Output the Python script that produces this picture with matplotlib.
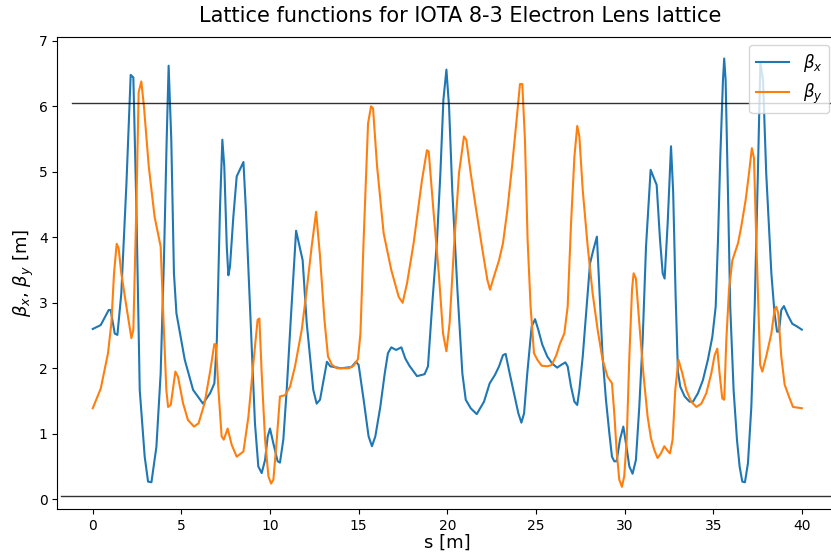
import matplotlib
matplotlib.use('Agg')
import matplotlib.pyplot as plt

# beta functions along the ring, s in metres
s_x = [0.0, 0.45, 0.9, 1.01, 1.24, 1.39, 1.61, 1.9, 2.14, 2.29, 2.46, 2.65, 2.93, 3.12, 3.31, 3.59,
       3.83, 4.02, 4.17, 4.28, 4.43, 4.58, 4.72, 5.19, 5.66, 6.22, 6.62, 6.86, 7.0, 7.18, 7.31, 7.42,
       7.56, 7.65, 7.74, 7.93, 8.12, 8.5, 8.63, 8.87, 9.15, 9.34, 9.53, 9.72, 9.87, 10.0, 10.19, 10.43,
       10.56, 10.75, 10.94, 11.18, 11.47, 11.84, 12.07, 12.44, 12.63, 12.82, 13.21, 13.4, 14.0, 14.6,
       14.85, 15.0, 15.28, 15.56, 15.75, 15.94, 16.22, 16.47, 16.65, 16.84, 17.11, 17.41, 17.63, 17.86,
       18.29, 18.72, 18.91, 19.14, 19.42, 19.61, 19.78, 19.95, 20.1, 20.28, 20.57, 20.85, 21.04, 21.32,
       21.66, 22.07, 22.39, 22.69, 22.92, 23.14, 23.29, 23.52, 23.76, 24.01, 24.18, 24.33, 24.51, 24.76,
       24.95, 25.13, 25.36, 25.64, 25.92, 26.2, 26.41, 26.66, 26.79, 26.98, 27.17, 27.33, 27.45, 27.64,
       27.86, 28.05, 28.24, 28.44, 28.58, 28.76, 28.95, 29.14, 29.29, 29.42, 29.55, 29.74, 29.93, 30.08,
       30.27, 30.45, 30.64, 30.83, 31.02, 31.21, 31.47, 31.81, 32.0, 32.15, 32.26, 32.43, 32.62, 32.74,
       32.88, 33.01, 33.14, 33.39, 33.67, 33.86, 34.14, 34.42, 34.7, 34.95, 35.14, 35.27, 35.4, 35.55,
       35.62, 35.7, 35.83, 35.96, 36.15, 36.34, 36.49, 36.64, 36.79, 36.96, 37.15, 37.34, 37.52, 37.66,
       37.81, 37.99, 38.28, 38.46, 38.6, 38.71, 38.84, 38.99, 39.21, 39.46, 39.72, 40.0]
beta_x = [2.6, 2.66, 2.89, 2.89, 2.53, 2.51, 3.14, 4.82, 6.48, 6.44, 4.47, 1.67, 0.65, 0.27, 0.26, 0.8,
          1.92, 3.7, 5.49, 6.62, 5.49, 3.45, 2.84, 2.13, 1.67, 1.46, 1.62, 1.77, 2.43, 4.47, 5.49, 5.08,
          3.86, 3.42, 3.55, 4.31, 4.93, 5.15, 4.47, 2.94, 1.16, 0.5, 0.4, 0.6, 0.96, 1.08, 0.85, 0.58,
          0.56, 0.91, 1.67, 2.79, 4.1, 3.65, 2.69, 1.67, 1.46, 1.52, 2.1, 2.03, 2.0, 2.02,
          2.1, 2.05, 1.52, 0.96, 0.81, 0.96, 1.41, 1.92, 2.23, 2.32, 2.28, 2.32, 2.15, 2.04,
          1.88, 1.91, 2.03, 2.94, 3.96, 4.98, 6.1, 6.56, 5.99, 4.72, 3.2, 1.92, 1.52, 1.39,
          1.3, 1.49, 1.77, 1.9, 2.03, 2.2, 2.22, 1.92, 1.62, 1.31, 1.17, 1.31, 1.92, 2.64,
          2.75, 2.59, 2.36, 2.18, 2.07, 2.01, 2.05, 2.09, 2.03, 1.72, 1.49, 1.44, 1.67, 2.18,
          2.94, 3.6, 3.81, 4.01, 3.2, 2.18, 1.52, 1.01, 0.65, 0.58, 0.58, 0.91, 1.11, 0.85,
          0.5, 0.39, 0.6, 1.41, 2.43, 3.86, 5.03, 4.8, 3.96, 3.45, 3.37, 4.21, 5.39, 4.7,
          3.1, 1.95, 1.72, 1.57, 1.49, 1.49, 1.62, 1.82, 2.13, 2.48, 2.94, 3.96, 5.23, 6.4,
          6.73, 6.4, 4.72, 2.94, 1.67, 0.91, 0.5, 0.27, 0.26, 0.55, 1.41, 2.94, 4.98, 6.66,
          6.4, 4.98, 3.45, 2.84, 2.56, 2.56, 2.89, 2.95, 2.81, 2.68, 2.64, 2.59]

s_y = [0.0, 0.45, 0.86, 1.05, 1.2, 1.35, 1.46, 1.61, 1.9, 2.18, 2.29, 2.46, 2.59, 2.74, 2.89, 3.16,
       3.49, 3.83, 3.96, 4.15, 4.25, 4.4, 4.66, 4.81, 5.09, 5.37, 5.71, 5.97, 6.31, 6.62, 6.86, 6.95,
       7.09, 7.27, 7.39, 7.61, 7.84, 8.12, 8.5, 8.78, 9.06, 9.3, 9.4, 9.53, 9.72, 9.91, 10.06, 10.19,
       10.38, 10.56, 10.85, 11.13, 11.41, 11.79, 12.07, 12.35, 12.6, 12.82, 13.07, 13.27, 13.5, 13.78,
       14.44, 14.72, 14.96, 15.1, 15.28, 15.53, 15.7, 15.81, 16.04, 16.41, 16.84, 17.26, 17.48, 17.73,
       18.1, 18.57, 18.85, 18.95, 19.23, 19.52, 19.76, 19.95, 20.13, 20.38, 20.66, 20.94, 21.07, 21.32,
       21.6, 21.98, 22.26, 22.41, 22.63, 22.92, 23.14, 23.39, 23.67, 23.89, 24.1, 24.23, 24.38, 24.53,
       24.7, 24.89, 25.08, 25.32, 25.64, 25.89, 26.15, 26.36, 26.6, 26.79, 26.98, 27.17, 27.33, 27.45,
       27.64, 27.92, 28.2, 28.48, 28.76, 29.04, 29.29, 29.42, 29.55, 29.7, 29.85, 29.98, 30.12, 30.27,
       30.42, 30.51, 30.64, 30.83, 31.06, 31.3, 31.49, 31.68, 31.86, 32.05, 32.24, 32.43, 32.56, 32.71,
       32.86, 33.04, 33.26, 33.48, 33.76, 34.05, 34.33, 34.61, 34.89, 35.08, 35.23, 35.36, 35.51, 35.62,
       35.74, 35.89, 36.08, 36.4, 36.58, 36.83, 37.02, 37.18, 37.3, 37.43, 37.58, 37.65, 37.77, 37.99,
       38.28, 38.46, 38.56, 38.67, 38.84, 39.03, 39.27, 39.5, 40.0]
beta_y = [1.39, 1.69, 2.23, 2.69, 3.45, 3.9, 3.83, 3.45, 2.94, 2.46, 2.59, 4.47, 6.22, 6.38, 5.99, 5.08,
          4.31, 3.86, 2.94, 1.67, 1.41, 1.44, 1.95, 1.87, 1.47, 1.21, 1.11, 1.16, 1.47, 1.95, 2.37, 2.36,
          1.67, 0.96, 0.91, 1.08, 0.83, 0.65, 0.73, 1.26, 2.08, 2.74, 2.76, 1.92, 0.91, 0.35, 0.24, 0.3,
          0.91, 1.57, 1.59, 1.72, 2.03, 2.59, 3.2, 3.86, 4.39, 3.71, 2.74, 2.18, 2.05, 2.0,
          2.0, 2.04, 2.14, 2.53, 3.96, 5.74, 6.0, 5.97, 5.08, 4.06, 3.5, 3.09, 3.0, 3.3,
          3.91, 4.87, 5.33, 5.31, 4.37, 3.45, 2.53, 2.26, 2.69, 3.86, 4.98, 5.54, 5.49, 4.98,
          4.47, 3.81, 3.35, 3.2, 3.4, 3.65, 3.91, 4.42, 5.13, 5.74, 6.34, 6.34, 5.49, 3.96,
          2.94, 2.23, 2.13, 2.04, 2.03, 2.05, 2.2, 2.38, 2.53, 2.94, 4.21, 5.23, 5.7, 5.54,
          4.72, 3.86, 3.14, 2.59, 2.13, 1.87, 1.77, 1.31, 0.75, 0.3, 0.19, 0.35, 0.91, 2.18,
          3.2, 3.45, 3.37, 2.69, 1.92, 1.26, 0.93, 0.75, 0.63, 0.7, 0.81, 0.74, 0.7, 0.91,
          1.67, 2.13, 1.92, 1.67, 1.49, 1.41, 1.46, 1.62, 1.92, 2.2, 2.3, 1.92, 1.54, 1.52,
          2.43, 3.2, 3.65, 3.91, 4.16, 4.57, 4.98, 5.36, 5.21, 3.96, 2.69, 2.05, 1.95, 2.18,
          2.53, 2.89, 2.94, 2.84, 2.18, 1.75, 1.57, 1.41, 1.39]

# aperture limits
upper_limit = 6.05
lower_limit = 0.05

fig = plt.figure(figsize=(8.31, 5.53), dpi=100)
ax = fig.add_axes([57.3 / 831, 1 - 509.3 / 553, 780 / 831, 472.6 / 553])

ax.plot(s_x, beta_x, label=r'$\beta_x$')
ax.plot(s_y, beta_y, label=r'$\beta_y$')
ax.plot([-1.17, 43], [upper_limit, upper_limit], color='k', lw=1, alpha=0.8)
ax.plot([-1.8, 43], [lower_limit, lower_limit], color='k', lw=1, alpha=0.8)

ax.set_xlim(-2.0, 42.0)
ax.set_ylim(-0.153, 7.063)
ax.set_xticks([0, 5, 10, 15, 20, 25, 30, 35, 40])
ax.set_xlabel('s [m]', fontsize=13, labelpad=0.5)
ax.set_ylabel(r'$\beta_x$, $\beta_y$ [m]', fontsize=13, labelpad=2)
ax.legend(loc='upper right', fontsize=12)
fig.suptitle('Lattice functions for IOTA 8-3 Electron Lens lattice', x=0.554, y=0.99, fontsize=15)

fig.savefig('out.png', dpi=100)
